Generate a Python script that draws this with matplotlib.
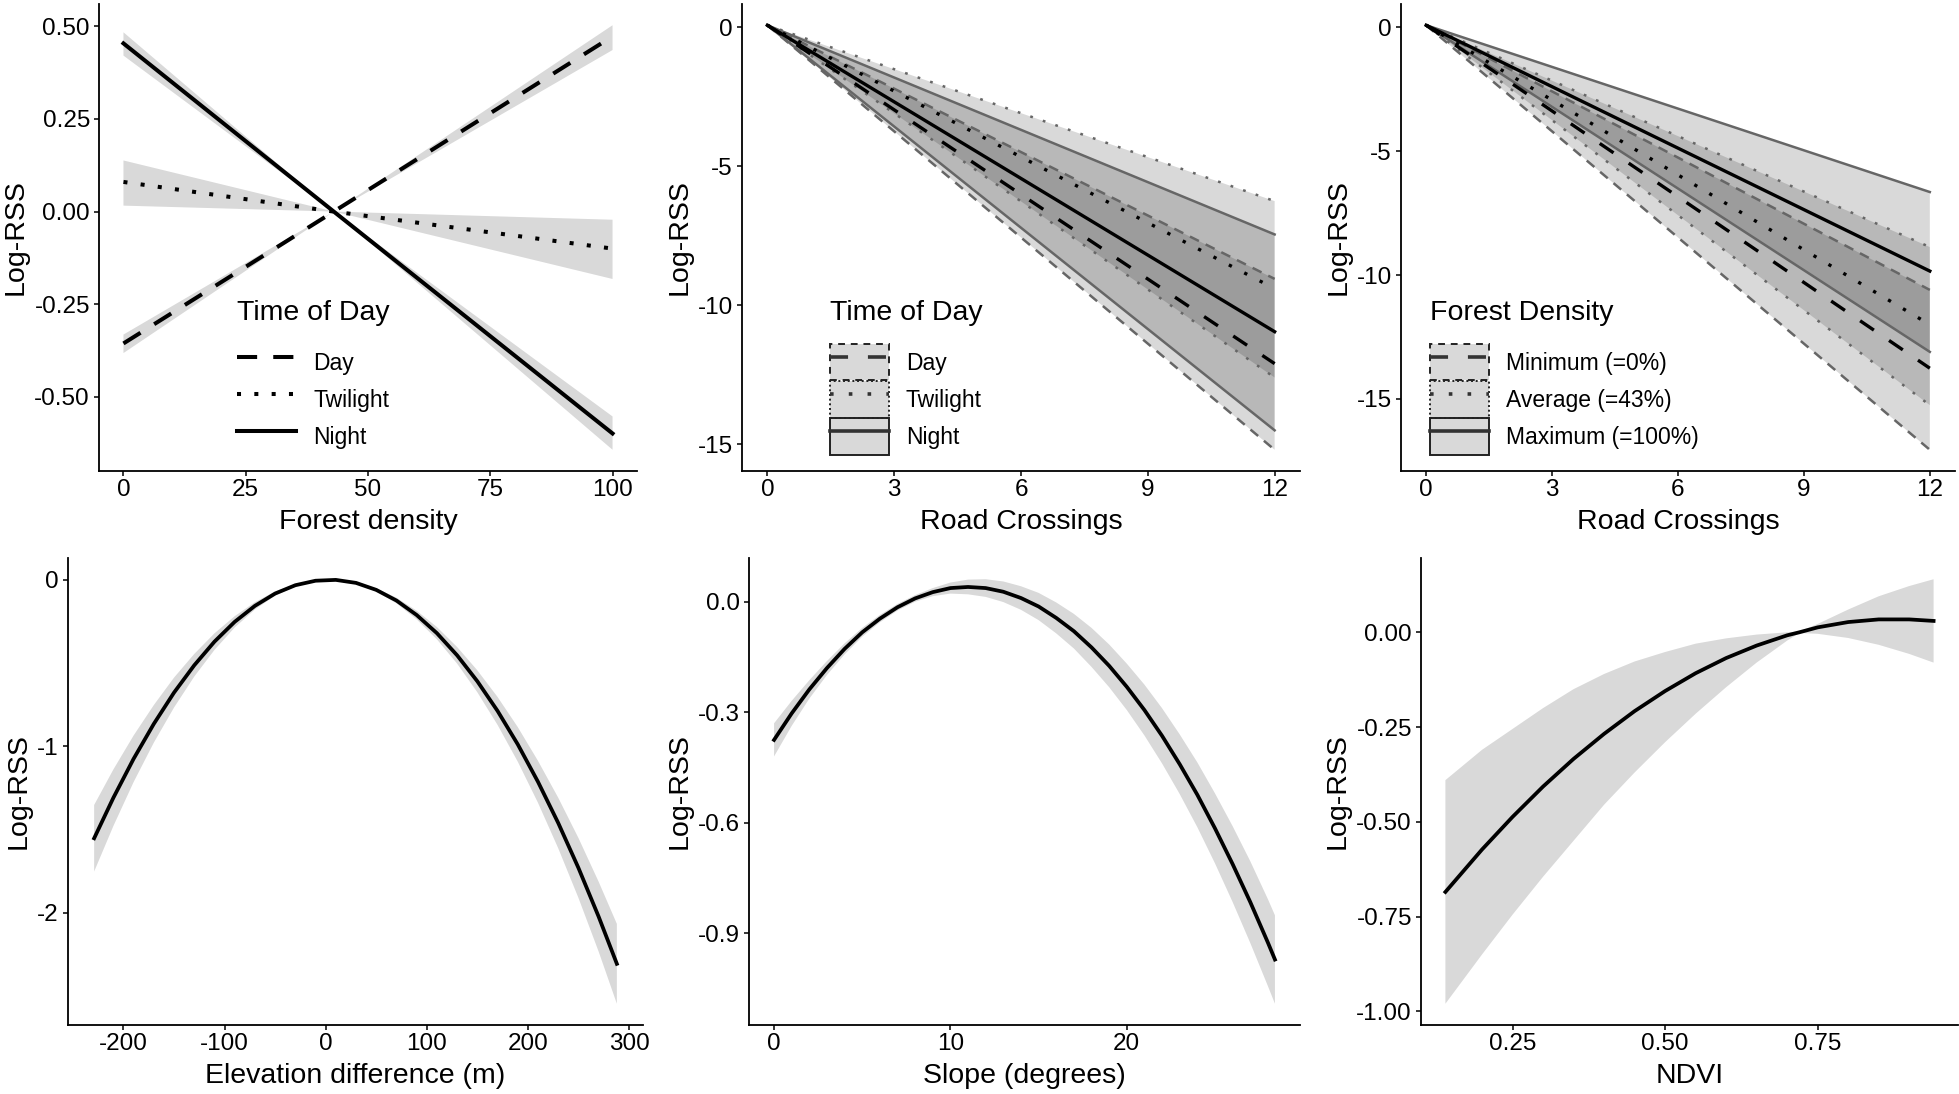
import numpy as np
import matplotlib.pyplot as plt
from matplotlib.lines import Line2D
from matplotlib.patches import Patch
from matplotlib.legend_handler import HandlerTuple

plt.rcParams['font.family'] = ['Liberation Sans', 'DejaVu Sans']
plt.rcParams['axes.unicode_minus'] = False

# --- top left: forest density x time of day
forest_x = [0, 43, 100]
day_fit = [-0.356, 0.0, 0.473]
day_lo = [-0.382, 0.0, 0.436]
day_hi = [-0.332, 0.0, 0.503]
twi_fit = [0.080, 0.0, -0.100]
twi_lo = [0.016, 0.0, -0.182]
twi_hi = [0.138, 0.0, -0.022]
night_fit = [0.454, 0.0, -0.599]
night_lo = [0.421, 0.0, -0.643]
night_hi = [0.484, 0.0, -0.553]

# --- top middle: road crossings x time of day
road_x = [0, 12]
tod_labels = ['Day', 'Twilight', 'Night']
tod_fit = [[0.08, -12.1], [0.08, -9.4], [0.08, -10.95]]
tod_lo = [[0.08, -15.2], [0.08, -12.6], [0.08, -14.5]]
tod_hi = [[0.08, -9.05], [0.08, -6.25], [0.08, -7.45]]

# --- top right: road crossings x forest density
fd_labels = ['Minimum (=0%)', 'Average (=43%)', 'Maximum (=100%)']
fd_fit = [[0.08, -13.76], [0.08, -12.0], [0.08, -9.84]]
fd_lo = [[0.08, -17.05], [0.08, -15.25], [0.08, -13.1]]
fd_hi = [[0.08, -10.6], [0.08, -8.87], [0.08, -6.65]]

# --- bottom left: elevation difference
elev_x = [-229, -210, -190, -170, -150, -130, -110, -90, -70, -50, -30, -10, 10, 30,
          50, 70, 90, 110, 130, 150, 170, 190, 210, 230, 250, 270, 288]
elev_fit = [-1.553, -1.31, -1.076, -0.866, -0.678, -0.514, -0.372, -0.253, -0.157, -0.083,
            -0.033, -0.006, -0.001, -0.019, -0.061, -0.125, -0.212, -0.321, -0.454, -0.61,
            -0.788, -0.989, -1.214, -1.461, -1.731, -2.024, -2.307]
elev_ci = [0.20, 0.17, 0.14, 0.113, 0.09, 0.068, 0.05, 0.034, 0.022, 0.013, 0.007, 0.004,
           0.004, 0.006, 0.01, 0.017, 0.026, 0.037, 0.05, 0.066, 0.084, 0.104, 0.126,
           0.152, 0.18, 0.21, 0.24]

# --- bottom middle: slope
slope_x = [0, 1, 2, 3, 4, 5, 6, 7, 8, 9, 10, 11, 12, 13, 14, 15, 16, 17, 18, 19, 20,
           21, 22, 23, 24, 25, 26, 27, 28, 28.4]
slope_fit = [-0.375, -0.303, -0.238, -0.18, -0.128, -0.083, -0.046, -0.015, 0.009, 0.026,
             0.037, 0.04, 0.037, 0.027, 0.01, -0.013, -0.044, -0.08, -0.124, -0.174,
             -0.231, -0.294, -0.364, -0.441, -0.524, -0.615, -0.712, -0.815, -0.925, -0.971]
slope_ci = [0.045, 0.034, 0.025, 0.019, 0.015, 0.012, 0.01, 0.009, 0.009, 0.011, 0.015,
            0.02, 0.024, 0.028, 0.032, 0.037, 0.042, 0.047, 0.053, 0.058, 0.063, 0.069,
            0.075, 0.081, 0.088, 0.095, 0.103, 0.111, 0.118, 0.12]

# --- bottom right: NDVI
ndvi_x = [0.14, 0.2, 0.25, 0.3, 0.35, 0.4, 0.45, 0.5, 0.55, 0.6, 0.65, 0.7, 0.72,
          0.75, 0.8, 0.85, 0.9, 0.94]
ndvi_fit = [-0.685, -0.573, -0.487, -0.407, -0.334, -0.268, -0.208, -0.155, -0.108,
            -0.068, -0.035, -0.008, 0.0, 0.013, 0.027, 0.034, 0.034, 0.030]
ndvi_lo = [-0.98, -0.85, -0.745, -0.645, -0.55, -0.455, -0.37, -0.29, -0.215, -0.145,
           -0.08, -0.022, -0.002, -0.004, -0.015, -0.033, -0.057, -0.08]
ndvi_hi = [-0.39, -0.31, -0.255, -0.20, -0.15, -0.11, -0.077, -0.052, -0.03, -0.016,
           -0.006, 0.0, 0.002, 0.022, 0.06, 0.095, 0.122, 0.14]

FILL = (0, 0, 0, 0.15)
EDGE = '#666666'
LS_BIG = {'dashed': (0, (5, 4)), 'dotted': (0, (1, 3.3)), 'solid': '-'}
LS_MEAN = {'dashed': (0, (5, 5.5)), 'dotted': (0, (1, 4.2)), 'solid': '-'}
LS_EDGE = {'dashed': (0, (4, 3)), 'dotted': (0, (1.1, 4.2)), 'solid': '-'}
LS_KEY = {'dashed': (0, (3.5, 3)), 'dotted': (0, (1, 1.4)), 'solid': '-'}
STYLES = ['dashed', 'dotted', 'solid']

W, H = 1959, 1094
fig = plt.figure(figsize=(W / 100, H / 100), dpi=100)


def add_ax(left, right, top, bottom, xlabel):
    ax = fig.add_axes([left / W, 1 - bottom / H, (right - left) / W, (bottom - top) / H])
    for s in ['top', 'right']:
        ax.spines[s].set_visible(False)
    for s in ['left', 'bottom']:
        ax.spines[s].set_linewidth(1.3)
    ax.tick_params(axis='both', length=3.5, width=1.1, labelsize=17.5, colors='black')
    ax.tick_params(axis='x', pad=2)
    ax.tick_params(axis='y', pad=3)
    ax.set_xlabel(xlabel, fontsize=20.5, labelpad=6)
    ax.set_ylabel('Log-RSS', fontsize=20.5, labelpad=4)
    return ax


def add_legend(ax, title, labels, handles, x0):
    ax.text(x0, 0.338, title, transform=ax.transAxes, fontsize=20.5, ha='left', va='center')
    ax.legend(handles, labels, loc='upper left', bbox_to_anchor=(x0, 0.2713), frameon=False,
              borderpad=0, borderaxespad=0, handlelength=2.57, handleheight=2.05,
              labelspacing=0.04, handletextpad=0.74, fontsize=16.5,
              handler_map={tuple: HandlerTuple(ndivide=1, pad=0)})


# top left
ax1 = add_ax(99, 637, 4, 471, 'Forest density')
for lo, hi in [(day_lo, day_hi), (twi_lo, twi_hi), (night_lo, night_hi)]:
    ax1.fill_between(forest_x, lo, hi, facecolor=FILL, lw=0)
for fit, st in zip([day_fit, twi_fit, night_fit], STYLES):
    ax1.plot(forest_x, fit, color='black', lw=2.9, ls=LS_BIG[st])
ax1.set_xticks([0, 25, 50, 75, 100])
ax1.set_yticks([-0.5, -0.25, 0, 0.25, 0.5])
ax1.set_yticklabels(['-0.50', '-0.25', '0.00', '0.25', '0.50'])
h1 = [Line2D([], [], color='black', lw=2.9, ls=LS_BIG[st]) for st in STYLES]
add_legend(ax1, 'Time of Day', tod_labels, h1, 0.2574)


def road_panel(ax, fits, los, his, labels, title, x0):
    for lo, hi in zip(los, his):
        ax.fill_between(road_x, lo, hi, facecolor=FILL, lw=0)
    for lo, hi, st in zip(los, his, STYLES):
        ax.plot(road_x, lo, color=EDGE, lw=1.8, ls=LS_EDGE[st])
        ax.plot(road_x, hi, color=EDGE, lw=1.8, ls=LS_EDGE[st])
    for fit, st in zip(fits, STYLES):
        ax.plot(road_x, fit, color='black', lw=2.4, ls=LS_MEAN[st])
    ax.set_xticks([0, 3, 6, 9, 12])
    ax.set_yticks([-15, -10, -5, 0])
    hs = [(Patch(facecolor=FILL, edgecolor='#222222', lw=1.4, ls=LS_KEY[st]),
           Line2D([], [], color='#333333', lw=2.6, ls=LS_MEAN[st])) for st in STYLES]
    add_legend(ax, title, labels, hs, x0)


ax2 = add_ax(742, 1300, 4, 471, 'Road Crossings')
road_panel(ax2, tod_fit, tod_lo, tod_hi, tod_labels, 'Time of Day', 0.1577)

ax3 = add_ax(1401, 1955, 4, 471, 'Road Crossings')
road_panel(ax3, fd_fit, fd_lo, fd_hi, fd_labels, 'Forest Density', 0.0523)

# bottom row
ax4 = add_ax(68, 643, 558, 1025, 'Elevation difference (m)')
e_fit = np.array(elev_fit)
e_ci = np.array(elev_ci)
ax4.fill_between(elev_x, e_fit - e_ci, e_fit + e_ci, facecolor=FILL, lw=0)
ax4.plot(elev_x, e_fit, color='black', lw=2.7)
ax4.set_xticks([-200, -100, 0, 100, 200, 300])
ax4.set_yticks([-2, -1, 0])

ax5 = add_ax(749, 1300, 558, 1025, 'Slope (degrees)')
s_fit = np.array(slope_fit)
s_ci = np.array(slope_ci)
ax5.fill_between(slope_x, s_fit - s_ci, s_fit + s_ci, facecolor=FILL, lw=0)
ax5.plot(slope_x, s_fit, color='black', lw=2.7)
ax5.set_xticks([0, 10, 20])
ax5.set_yticks([-0.9, -0.6, -0.3, 0.0])
ax5.set_yticklabels(['-0.9', '-0.6', '-0.3', '0.0'])

ax6 = add_ax(1421, 1958, 558, 1025, 'NDVI')
ax6.fill_between(ndvi_x, ndvi_lo, ndvi_hi, facecolor=FILL, lw=0)
ax6.plot(ndvi_x, ndvi_fit, color='black', lw=2.7)
ax6.set_xticks([0.25, 0.5, 0.75])
ax6.set_xticklabels(['0.25', '0.50', '0.75'])
ax6.set_yticks([-1.0, -0.75, -0.5, -0.25, 0.0])
ax6.set_yticklabels(['-1.00', '-0.75', '-0.50', '-0.25', '0.00'])

plt.savefig('out.png', dpi=100, facecolor='white')
